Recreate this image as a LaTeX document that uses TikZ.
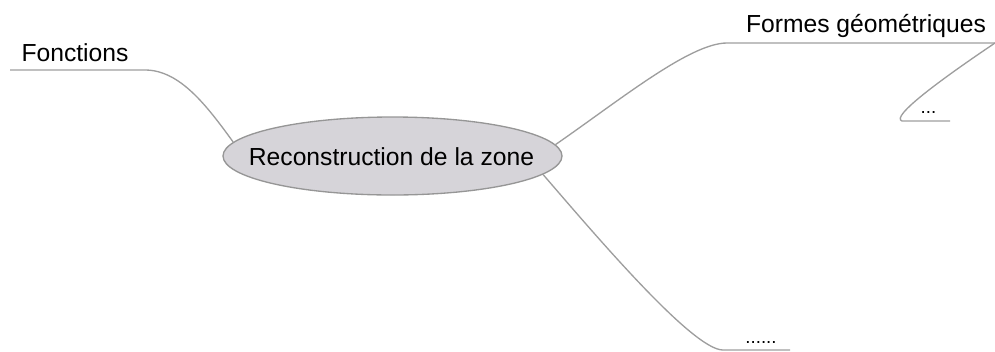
\documentclass[tikz,border=0pt]{standalone}
\usepackage{fontspec}
\setmainfont{Liberation Sans}
\usetikzlibrary{shapes.geometric}
\definecolor{branchgray}{RGB}{158,158,158}
\definecolor{hubfill}{RGB}{214,212,217}
\definecolor{hubdraw}{RGB}{150,150,150}

\begin{document}
\begin{tikzpicture}[x=0.75pt,y=0.75pt,yscale=-1,xscale=1,
  hub/.style={ellipse, draw=hubdraw, fill=hubfill, line width=1pt, minimum width=254.25pt, minimum height=58.5pt, inner sep=0pt},
  hubtext/.style={font=\fontsize{18.5}{22}\selectfont, inner sep=0pt, anchor=base},
  branchtext/.style={font=\fontsize{18.5}{22}\selectfont, inner sep=0pt, anchor=base},
  leaftext/.style={font=\fontsize{14}{16}\selectfont, inner sep=0pt, anchor=base},
  branch/.style={draw=branchgray, line width=1pt}]
\useasboundingbox (0,0) rectangle (995,351);

%Central topic
\node[hub] (zone) at (392.5,156) {};
\node[hubtext] (zonetext) at (391.5,165) {Reconstruction de la zone};

%Branch: Fonctions
\node[branchtext] (fonctions) at (75,61) {Fonctions};
\coordinate (fonctionsL) at (10,70);
\coordinate (fonctionsR) at (145,70);
\draw[branch] (fonctionsL) -- (fonctionsR) .. controls (180,70) and (207,106) .. (zone.175);

%Branch: Formes geometriques
\node[branchtext] (formes) at (866,32) {Formes géométriques};
\coordinate (formesL) at (727,43);
\coordinate (formesR) at (995,43);
\draw[branch] (zone.4) .. controls (620,100) and (690,43) .. (formesL) -- (formesR);

%Sub-branch of Formes geometriques
\node[leaftext] (formesdots) at (928.5,113) {...};
\coordinate (formesdotsL) at (902,121);
\coordinate (formesdotsR) at (950,121);
\draw[branch] (formesR) .. controls (940,80) and (890,117) .. (formesdotsL) -- (formesdotsR);

%Branch: dots
\node[leaftext] (dots) at (761,343) {......};
\coordinate (dotsL) at (723,350);
\coordinate (dotsR) at (790,350);
\draw[branch] (zone.-7) .. controls (597,237) and (693,350) .. (dotsL) -- (dotsR);

\end{tikzpicture}
\end{document}
